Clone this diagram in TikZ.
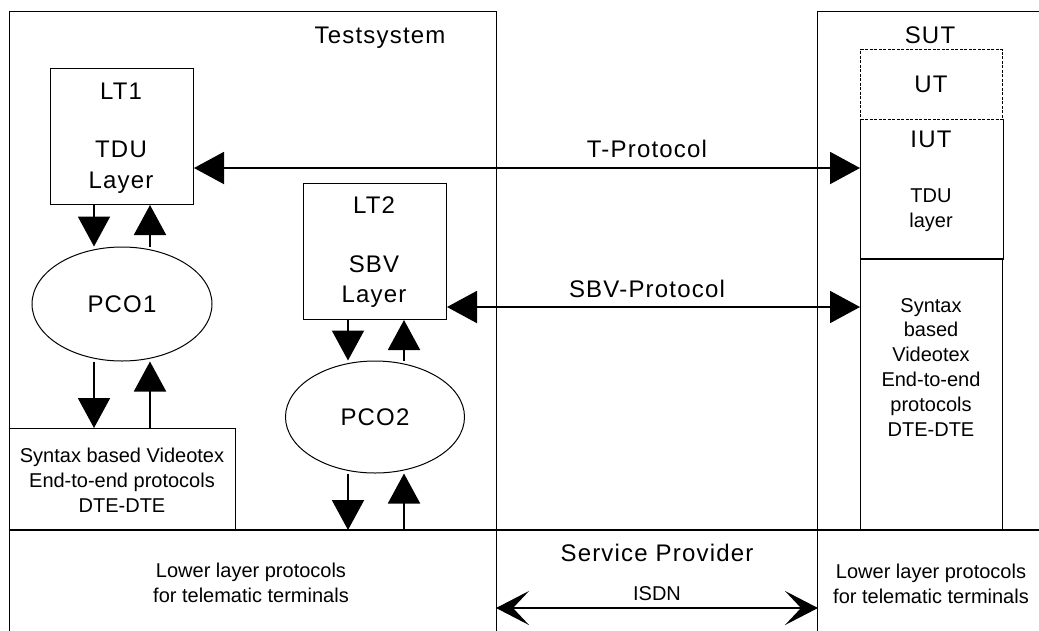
\documentclass[tikz,border=0pt]{standalone}
\usepackage{fontspec}
\setmainfont{Liberation Sans}
\newfontfamily\spaced{Liberation Sans}[LetterSpace=5]
\usetikzlibrary{arrows.meta,shapes.geometric}
\begin{document}
\begin{tikzpicture}[x=1pt,y=-1pt,
  box/.style={draw,line width=1pt,inner sep=0pt,anchor=north west},
  ell/.style={draw,ellipse,line width=1pt,inner sep=0pt,font=\spaced\fontsize{24}{28}\selectfont},
  big/.style={font=\spaced\fontsize{24}{28}\selectfont,inner sep=0pt,anchor=base},
  small/.style={font=\fontsize{20}{25}\selectfont,inner sep=0pt,anchor=base},
  arr/.style={line width=2pt},
  >={Triangle[length=30pt,width=32pt]},
  isdnarr/.style={line width=2pt,{Stealth[length=33pt,width=34pt,inset=16pt]}-{Stealth[length=33pt,width=34pt,inset=16pt]}},
  utbox/.style={box,dash pattern=on 3pt off 1.5pt}]
\useasboundingbox (0,0) rectangle (1039,630);
\clip (0,0) rectangle (1039,630);
% frames
\node[box,minimum width=487pt,minimum height=519pt] (ts) at (9,11) {};
\node[box,minimum width=240pt,minimum height=640pt] (sut) at (817,11) {};
\node[box,minimum width=487pt,minimum height=120pt] (llow) at (9,530) {};
\node[box,minimum width=321pt,minimum height=120pt] (sp) at (496,530) {};
\node[box,minimum width=240pt,minimum height=120pt] (rlow) at (817,530) {};
% test system parts
\node[box,minimum width=143pt,minimum height=136pt] (lt1) at (50,68) {};
\node[box,minimum width=143pt,minimum height=136pt] (lt2) at (303,183) {};
\node[box,minimum width=226pt,minimum height=102pt] (sbl) at (9,428) {};
\node[ell,minimum width=180pt,minimum height=114pt] (pco1) at (122,304) {PCO1};
\node[ell,minimum width=179pt,minimum height=112pt] (pco2) at (375,417) {PCO2};
% SUT column
\node[utbox,minimum width=142pt,minimum height=70pt] (ut) at (860,49) {};
\node[box,draw=none,minimum width=142pt,minimum height=140pt] (iut) at (860,119) {};
\node[box,minimum width=142pt,minimum height=271pt] (sbr) at (860,259) {};
\draw[line width=1pt] (iut.north west) -- (iut.south west) (iut.north east) -- (iut.south east);
\draw[line width=1.6pt] (sbr.north west) -- (sbr.north east);
\draw[line width=2pt] (llow.north west) -- (rlow.north east);
% texts
\node[big] (tsl) at (380,43) {Testsystem};
\node[big] (lt1a) at (121,99) {LT1};
\node[big] (lt1b) at (121,157) {TDU};
\node[big] (lt1c) at (121,188) {Layer};
\node[big] (lt2a) at (374,213) {LT2};
\node[big] (lt2b) at (374,272) {SBV};
\node[big] (lt2c) at (374,302) {Layer};
\node[small] (sbl1) at (122,462) {Syntax based Videotex};
\node[small] (sbl2) at (122,487) {End-to-end protocols};
\node[small] (sbl3) at (122,512) {DTE-DTE};
\node[small] (ll1) at (251,577) {Lower layer protocols};
\node[small] (ll2) at (251,602) {for telematic terminals};
\node[big] (tpl) at (647,157) {T-Protocol};
\node[big] (spl) at (647,297) {SBV-Protocol};
\node[big] (sutl) at (930,43) {SUT};
\node[big] (utl) at (931,92) {UT};
\node[big] (iutl) at (931,147) {IUT};
\node[small] (iut1) at (931,202) {TDU};
\node[small] (iut2) at (931,227) {layer};
\node[small] (sbr1) at (931,312) {Syntax};
\node[small] (sbr2) at (931,336) {based};
\node[small] (sbr3) at (931,361) {Videotex};
\node[small] (sbr4) at (931,386) {End-to-end};
\node[small] (sbr5) at (931,411) {protocols};
\node[small] (sbr6) at (931,436) {DTE-DTE};
\node[big] (spn) at (657,561) {Service Provider};
\node[small] (isdnl) at (657,600) {ISDN};
\node[small] (rl1) at (931,578) {Lower layer protocols};
\node[small] (rl2) at (931,603) {for telematic terminals};
% vertical arrows
\coordinate (a1) at (94,0);
\coordinate (a2) at (150,0);
\coordinate (a3) at (348,0);
\coordinate (a4) at (404,0);
\draw[arr,->] (a1 |- lt1.south) -- (a1 |- pco1.north);
\draw[arr,->] (a2 |- pco1.north) -- (a2 |- lt1.south);
\draw[arr,->] (a1 |- pco1.south) -- (a1 |- sbl.north);
\draw[arr,->] (a2 |- sbl.north) -- (a2 |- pco1.south);
\draw[arr,->] (a3 |- lt2.south) -- (a3 |- pco2.north);
\draw[arr,->] (a4 |- pco2.north) -- (a4 |- lt2.south);
\draw[arr,->] (a3 |- pco2.south) -- (a3 |- llow.north);
\draw[arr,->] (a4 |- llow.north) -- (a4 |- pco2.south);
% horizontal arrows
\coordinate (tp) at (0,168);
\coordinate (sbvp) at (0,307);
\coordinate (isdn) at (0,608);
\draw[arr,<->] (lt1.east |- tp) -- (iut.west |- tp);
\draw[arr,<->] (lt2.east |- sbvp) -- (sbr.west |- sbvp);
\draw[isdnarr] (sp.west |- isdn) -- (sp.east |- isdn);
\end{tikzpicture}
\end{document}
